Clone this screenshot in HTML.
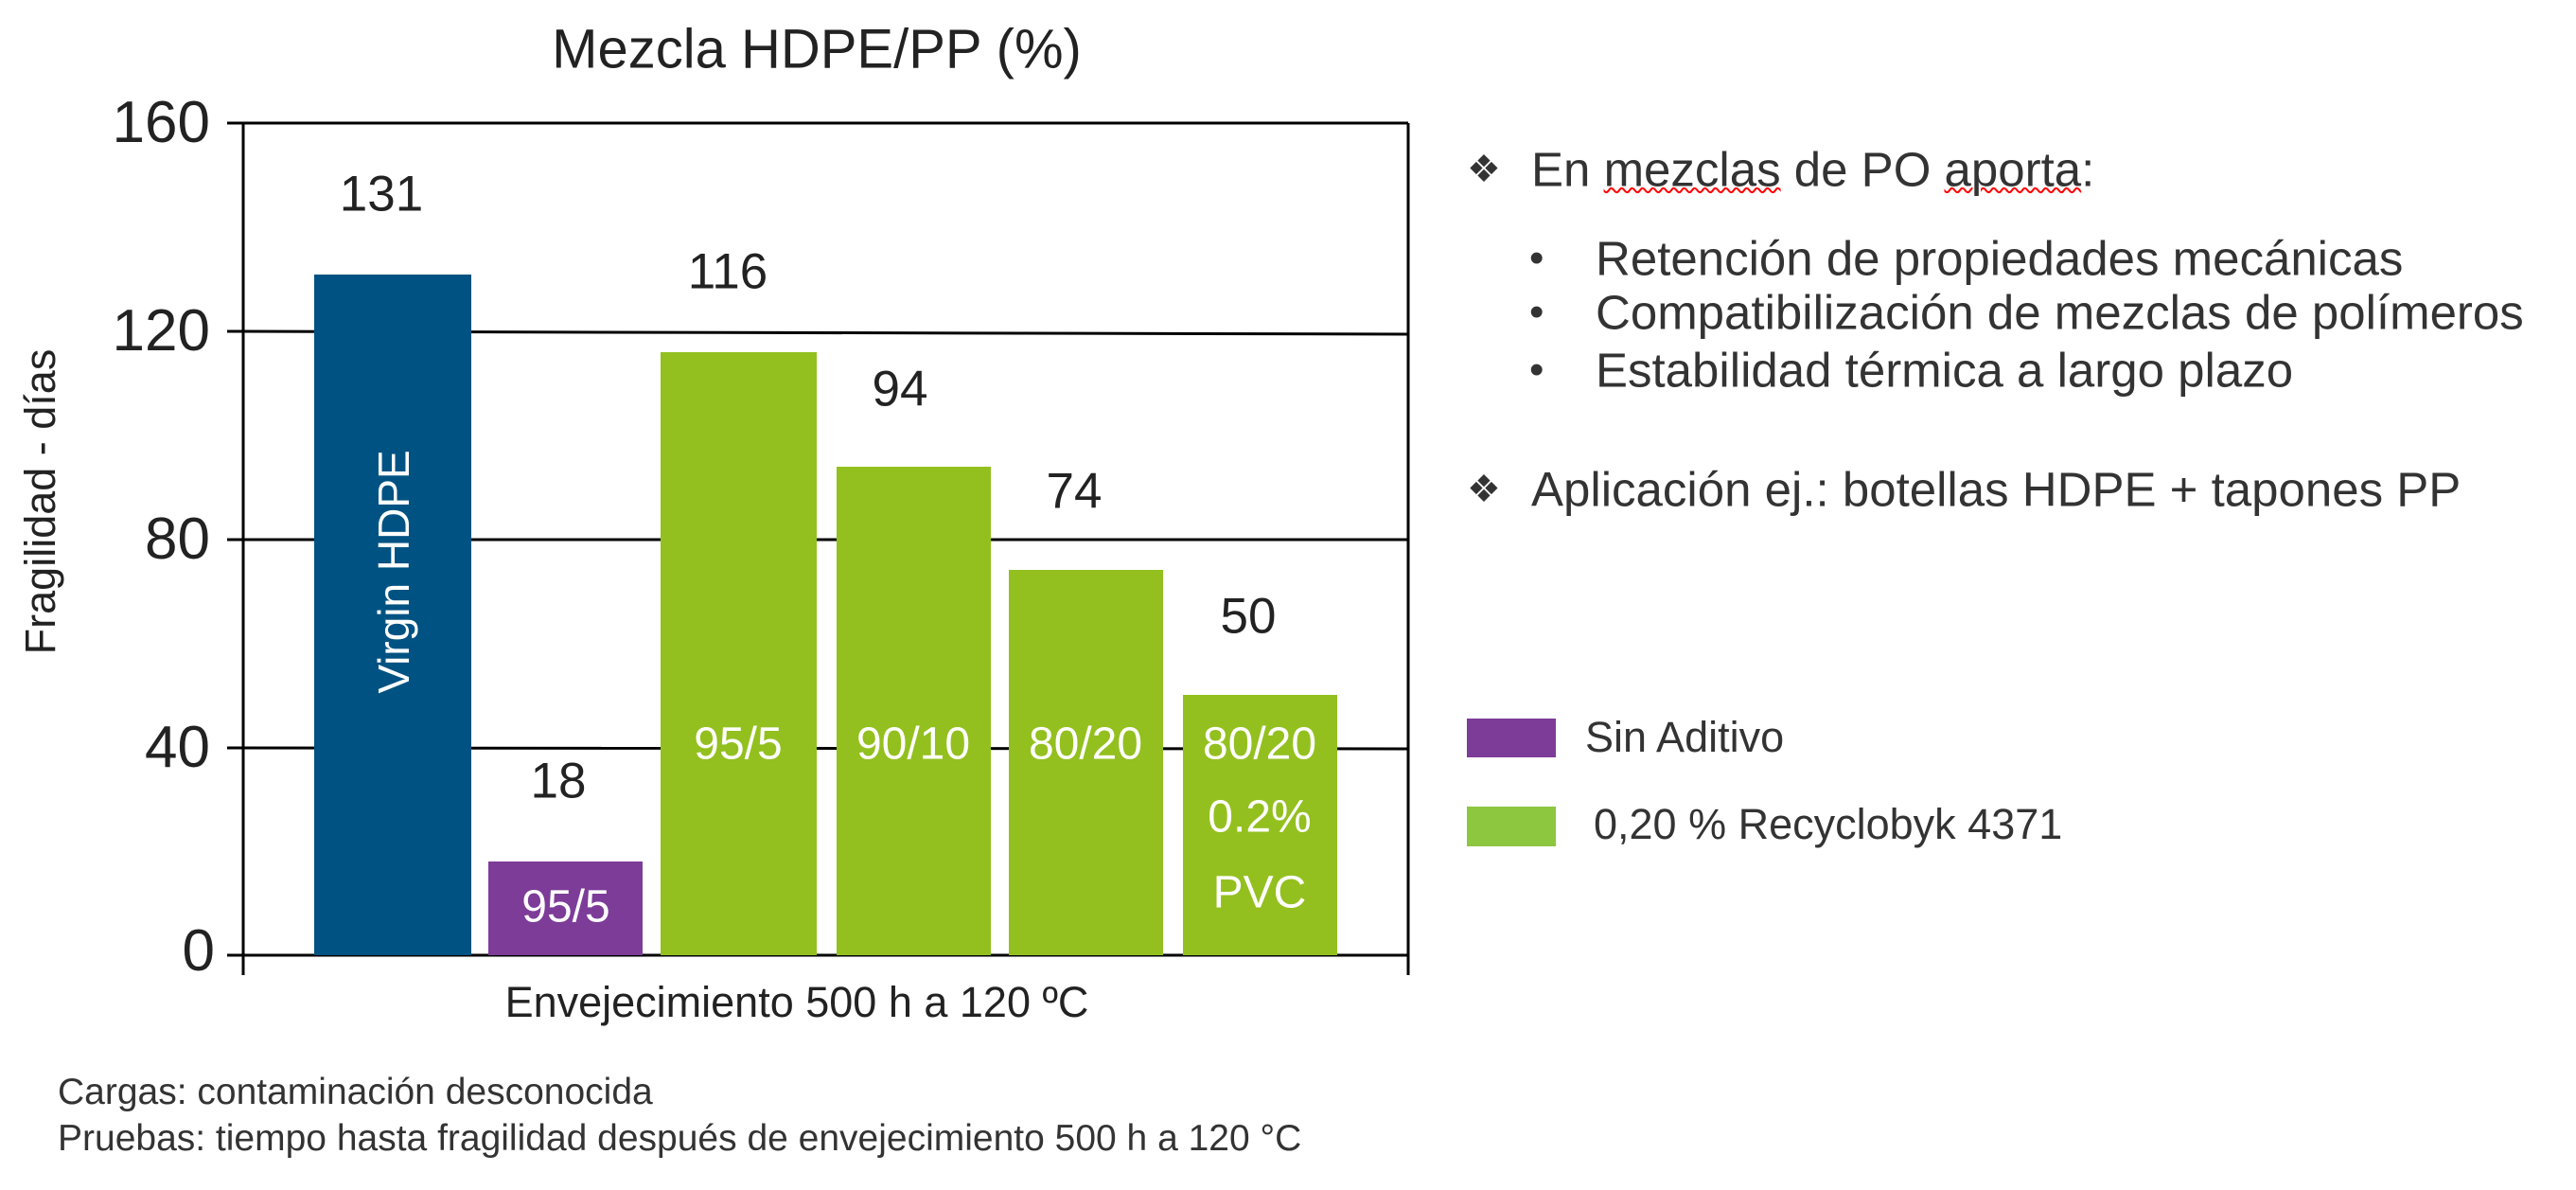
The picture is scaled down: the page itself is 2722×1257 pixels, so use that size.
<!DOCTYPE html>
<html><head><meta charset="utf-8"><style>
body{margin:0;width:2722px;height:1257px;background:#fff;overflow:hidden;position:relative;font-family:"Liberation Sans",sans-serif;color:#222}
.a{position:absolute;white-space:nowrap}
.c{transform:translate(-50%,-50%)}
.l{transform:translateY(-50%)}
.t{position:absolute;right:2500px;font-size:62px;line-height:64px;transform:translateY(-50%)}
</style></head><body>
<svg width="2722" height="1257" style="position:absolute;left:0;top:0">
<g stroke="#000" stroke-width="3">
<line x1="240" y1="130" x2="1488" y2="130"/>
<line x1="240" y1="350" x2="1488" y2="353"/>
<line x1="240" y1="570" x2="1488" y2="570"/>
<line x1="240" y1="790" x2="1488" y2="791"/>
<line x1="240" y1="1009" x2="1488" y2="1009"/>
<line x1="257" y1="130" x2="257" y2="1030"/>
<line x1="1488" y1="130" x2="1488" y2="1030"/>
</g>
<rect x="332" y="290" width="166" height="719" fill="#005283"/>
<rect x="516" y="910" width="163" height="99" fill="#7d3c98"/>
<rect x="698" y="372" width="165" height="637" fill="#93c01f"/>
<rect x="884" y="493" width="163" height="516" fill="#93c01f"/>
<rect x="1066" y="602" width="163" height="407" fill="#93c01f"/>
<rect x="1250" y="734" width="163" height="275" fill="#93c01f"/>
<rect x="1550" y="759" width="94" height="41" fill="#7d3c98"/>
<rect x="1550" y="852" width="94" height="42" fill="#8dc63f"/>
</svg>
<div class="a c" style="left:863px;top:52px;font-size:58px">Mezcla HDPE/PP (%)</div>
<div class="t" style="top:130px">160</div>
<div class="t" style="top:350px">120</div>
<div class="t" style="top:570px">80</div>
<div class="t" style="top:790px">40</div>
<div class="t" style="top:1005px;right:2495px">0</div>
<div class="a c" style="left:43px;top:530px;font-size:45px;transform:translate(-50%,-50%) rotate(-90deg)">Fragilidad - días</div>
<div class="a c" style="left:403px;top:205px;font-size:53px">131</div>
<div class="a c" style="left:590px;top:825px;font-size:53px">18</div>
<div class="a c" style="left:769px;top:287px;font-size:53px">116</div>
<div class="a c" style="left:951px;top:411px;font-size:53px">94</div>
<div class="a c" style="left:1135px;top:519px;font-size:53px">74</div>
<div class="a c" style="left:1319px;top:651px;font-size:53px">50</div>
<div class="a c" style="left:416px;top:604px;font-size:46px;color:#fff;transform:translate(-50%,-50%) rotate(-90deg)">Virgin HDPE</div>
<div class="a c" style="left:598px;top:958px;font-size:48px;color:#fff">95/5</div>
<div class="a c" style="left:780px;top:786px;font-size:48px;color:#fff">95/5</div>
<div class="a c" style="left:965px;top:786px;font-size:48px;color:#fff">90/10</div>
<div class="a c" style="left:1147px;top:786px;font-size:48px;color:#fff">80/20</div>
<div class="a c" style="left:1331px;top:786px;font-size:48px;color:#fff">80/20</div>
<div class="a c" style="left:1331px;top:863px;font-size:48px;color:#fff">0.2%</div>
<div class="a c" style="left:1331px;top:943px;font-size:48px;color:#fff">PVC</div>
<div class="a c" style="left:842px;top:1059px;font-size:45px">Envejecimiento 500 h a 120 ºC</div>
<div class="a l" style="left:61px;top:1154px;font-size:39px;color:#333">Cargas: contaminación desconocida</div>
<div class="a l" style="left:61px;top:1203px;font-size:39px;color:#333">Pruebas: tiempo hasta fragilidad después de envejecimiento 500 h a 120 °C</div>
<div class="a l" style="left:1550px;top:179px;font-size:40px;color:#333">❖</div>
<div class="a l" style="left:1618px;top:179px;font-size:51px;color:#333">En <span style="text-decoration:underline wavy red 2px">mezclas</span> de PO <span style="text-decoration:underline wavy red 2px">aporta</span>:</div>
<div class="a l" style="left:1616px;top:273px;font-size:44px;color:#333">•</div>
<div class="a l" style="left:1686px;top:273px;font-size:51px;color:#333">Retención de propiedades mecánicas</div>
<div class="a l" style="left:1616px;top:330px;font-size:44px;color:#333">•</div>
<div class="a l" style="left:1686px;top:330px;font-size:51px;color:#333">Compatibilización de mezclas de polímeros</div>
<div class="a l" style="left:1616px;top:391px;font-size:44px;color:#333">•</div>
<div class="a l" style="left:1686px;top:391px;font-size:51px;color:#333">Estabilidad térmica a largo plazo</div>
<div class="a l" style="left:1550px;top:517px;font-size:40px;color:#333">❖</div>
<div class="a l" style="left:1618px;top:517px;font-size:51px;color:#333">Aplicación ej.: botellas HDPE + tapones PP</div>
<div class="a l" style="left:1675px;top:779px;font-size:45px;color:#333">Sin Aditivo</div>
<div class="a l" style="left:1684px;top:871px;font-size:45px;color:#333">0,20 % Recyclobyk 4371</div>
</body></html>
